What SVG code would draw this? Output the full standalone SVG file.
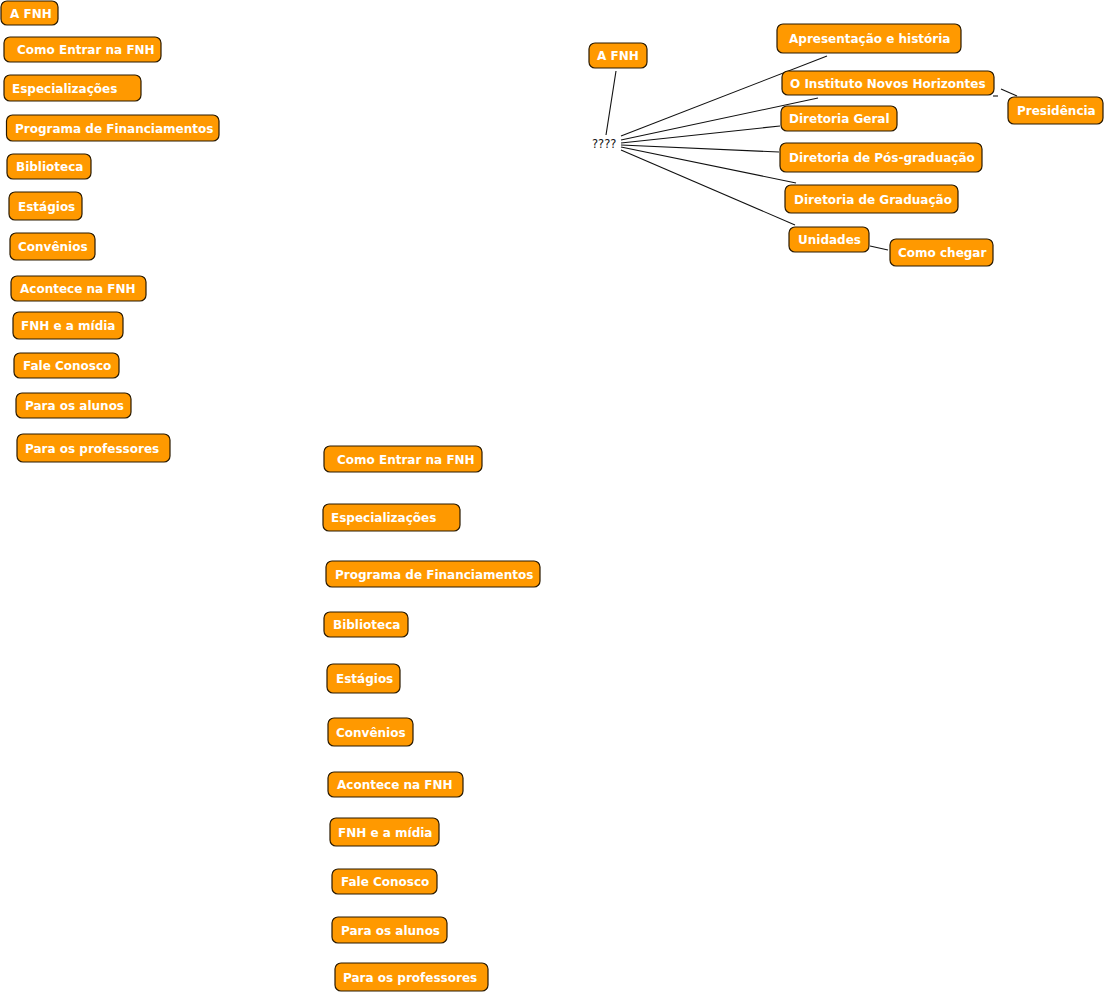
<svg xmlns="http://www.w3.org/2000/svg" width="1105" height="993" viewBox="0 0 1105 993">
<style>
.n rect{fill:#FF9900;stroke:#2a1a00;stroke-width:1.2}
.n text{fill:#ffffff;font-family:"DejaVu Sans",Verdana,sans-serif;font-weight:bold;font-size:12px}
.c line{stroke:#111111;stroke-width:1.1}
.q{fill:#111111;font-family:"DejaVu Sans",Verdana,sans-serif;font-size:11.5px}
</style>
<rect width="1105" height="993" fill="#ffffff"/>
<g class="c" id="connectors">
<line x1="616" y1="71" x2="606" y2="135"/>
<line x1="621" y1="136" x2="827" y2="56"/>
<line x1="621" y1="140" x2="818" y2="98"/>
<line x1="621" y1="143" x2="780" y2="126"/>
<line x1="621" y1="145" x2="779" y2="152"/>
<line x1="621" y1="147" x2="796" y2="183"/>
<line x1="621" y1="150" x2="795" y2="225"/>
<line x1="1001" y1="89" x2="1017" y2="96"/>
<line x1="993" y1="96" x2="998" y2="96"/>
<line x1="870" y1="246" x2="888" y2="250"/>
</g>
<text class="q" x="592" y="148">????</text>
<g class="n" id="l-afnh"><rect x="1" y="1" width="57" height="24" rx="6"/><text x="10" y="17.5">A FNH</text></g>
<g class="n" id="l-entrar"><rect x="4" y="37" width="157" height="25" rx="6"/><text x="17" y="54">Como Entrar na FNH</text></g>
<g class="n" id="l-espec"><rect x="4" y="75" width="137" height="26" rx="6"/><text x="12" y="92.5">Especializações</text></g>
<g class="n" id="l-prog"><rect x="6.5" y="115" width="212.5" height="26" rx="6"/><text x="15" y="132.5">Programa de Financiamentos</text></g>
<g class="n" id="l-bib"><rect x="7" y="154" width="84" height="25" rx="6"/><text x="16" y="171">Biblioteca</text></g>
<g class="n" id="l-est"><rect x="9" y="192" width="73" height="28" rx="6"/><text x="18" y="210.5">Estágios</text></g>
<g class="n" id="l-conv"><rect x="10" y="233" width="85" height="27" rx="6"/><text x="18" y="251">Convênios</text></g>
<g class="n" id="l-acont"><rect x="11" y="276" width="135" height="25" rx="6"/><text x="20" y="293">Acontece na FNH</text></g>
<g class="n" id="l-midia"><rect x="13" y="312" width="110" height="27" rx="6"/><text x="21" y="330">FNH e a mídia</text></g>
<g class="n" id="l-fale"><rect x="14" y="353" width="105" height="25" rx="6"/><text x="23" y="370">Fale Conosco</text></g>
<g class="n" id="l-alunos"><rect x="16" y="393" width="115" height="25" rx="6"/><text x="25" y="410">Para os alunos</text></g>
<g class="n" id="l-prof"><rect x="17" y="434" width="153" height="28" rx="6"/><text x="25" y="452.5">Para os professores</text></g>
<g class="n" id="m-entrar"><rect x="324" y="446" width="158" height="26" rx="6"/><text x="337" y="463.5">Como Entrar na FNH</text></g>
<g class="n" id="m-espec"><rect x="323" y="504" width="137" height="27" rx="6"/><text x="331" y="522">Especializações</text></g>
<g class="n" id="m-prog"><rect x="326" y="561" width="214" height="26" rx="6"/><text x="335" y="578.5">Programa de Financiamentos</text></g>
<g class="n" id="m-bib"><rect x="324" y="612" width="84" height="25" rx="6"/><text x="333" y="629">Biblioteca</text></g>
<g class="n" id="m-est"><rect x="327" y="664" width="73" height="29" rx="6"/><text x="336" y="683">Estágios</text></g>
<g class="n" id="m-conv"><rect x="328" y="718" width="85" height="28" rx="6"/><text x="336" y="736.5">Convênios</text></g>
<g class="n" id="m-acont"><rect x="328" y="772" width="135" height="25" rx="6"/><text x="337" y="789">Acontece na FNH</text></g>
<g class="n" id="m-midia"><rect x="330" y="818" width="109" height="28" rx="6"/><text x="338" y="836.5">FNH e a mídia</text></g>
<g class="n" id="m-fale"><rect x="332" y="869" width="105" height="25" rx="6"/><text x="341" y="886">Fale Conosco</text></g>
<g class="n" id="m-alunos"><rect x="332" y="917" width="115" height="26" rx="6"/><text x="341" y="934.5">Para os alunos</text></g>
<g class="n" id="m-prof"><rect x="335" y="963" width="153" height="28" rx="6"/><text x="343" y="981.5">Para os professores</text></g>
<g class="n" id="r-afnh"><rect x="589" y="43" width="58" height="25" rx="6"/><text x="597" y="60">A FNH</text></g>
<g class="n" id="r-apres"><rect x="777" y="24" width="184" height="29" rx="6"/><text x="789" y="43">Apresentação e história</text></g>
<g class="n" id="r-inst"><rect x="782" y="71" width="212" height="24" rx="6"/><text x="790" y="87.5">O Instituto Novos Horizontes</text></g>
<g class="n" id="r-pres"><rect x="1008" y="97" width="95" height="27" rx="6"/><text x="1017" y="115">Presidência</text></g>
<g class="n" id="r-geral"><rect x="781" y="106" width="116" height="25" rx="6"/><text x="789" y="123">Diretoria Geral</text></g>
<g class="n" id="r-pos"><rect x="780" y="143" width="202" height="29" rx="6"/><text x="789" y="162">Diretoria de Pós-graduação</text></g>
<g class="n" id="r-grad"><rect x="785" y="185" width="173" height="28" rx="6"/><text x="794" y="203.5">Diretoria de Graduação</text></g>
<g class="n" id="r-unid"><rect x="789" y="227" width="80" height="25" rx="6"/><text x="798" y="244">Unidades</text></g>
<g class="n" id="r-chegar"><rect x="890" y="239" width="103" height="27" rx="6"/><text x="898" y="257">Como chegar</text></g>
</svg>
